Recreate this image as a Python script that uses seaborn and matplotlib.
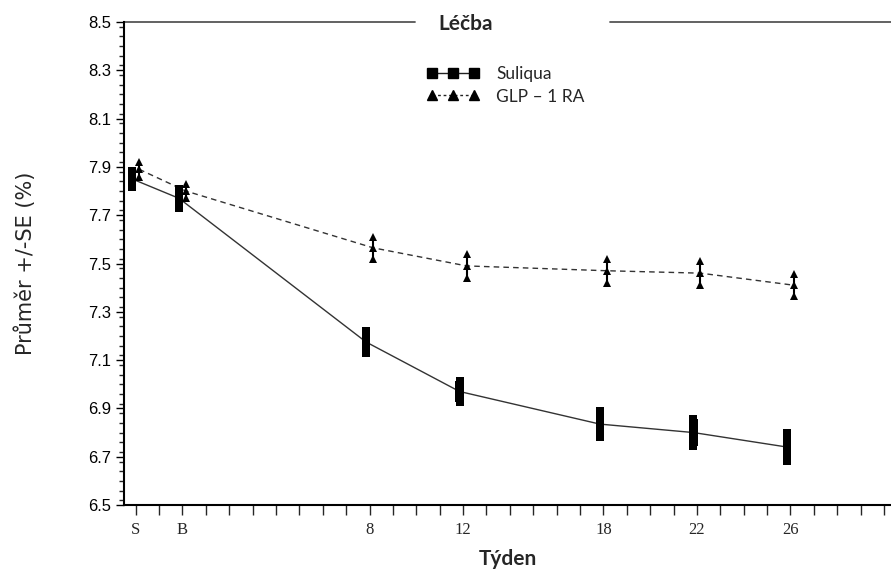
import matplotlib
matplotlib.use("Agg")
import matplotlib.pyplot as plt
import seaborn as sns
import numpy as np
import pandas as pd
from matplotlib.lines import Line2D
from matplotlib.ticker import MultipleLocator

# ---- data ----
weeks = [-2, 0, 8, 12, 18, 22, 26]
week_labels = ["S", "B", "8", "12", "18", "22", "26"]
suliqua_mean = [7.85, 7.77, 7.175, 6.97, 6.835, 6.80, 6.74]
suliqua_se = [0.035, 0.04, 0.045, 0.045, 0.053, 0.055, 0.058]
glp_mean = [7.89, 7.80, 7.565, 7.49, 7.47, 7.46, 7.41]
glp_se = [0.03, 0.03, 0.045, 0.05, 0.05, 0.05, 0.045]
series_names = ["Suliqua", "GLP – 1 RA"]

sns.set_theme(style="white")
plt.rcParams['font.family'] = ['Liberation Sans', 'DejaVu Sans']

rows = []
for name, means, ses, off in [(series_names[0], suliqua_mean, suliqua_se, -0.15),
                              (series_names[1], glp_mean, glp_se, 0.15)]:
    for w, m, s in zip(weeks, means, ses):
        rows.append(dict(series=name, week=w + off, mean=m, se=s))
df = pd.DataFrame(rows)
df["lo"] = df["mean"] - df["se"]
df["hi"] = df["mean"] + df["se"]

fig = plt.figure(figsize=(8.91, 5.72), dpi=100)
ax = fig.add_axes([124/891, 1 - 505/572, 1 - 124/891, (505 - 22)/572])

styles = {series_names[0]: dict(marker="s", ls="-", ms=6.0, color="#333333"),
          series_names[1]: dict(marker="^", ls=(0, (4, 3)), ms=6.0, color="#333333")}

for name in series_names:
    d = df[df.series == name]
    st = styles[name]
    sns.lineplot(data=d, x="week", y="mean", ax=ax, color=st["color"], lw=1.0,
                 linestyle=st["ls"], marker=st["marker"], markersize=st["ms"],
                 markeredgecolor="black", markerfacecolor="black", markeredgewidth=0,
                 estimator=None, sort=False, legend=False, zorder=2)
    if st["marker"] == "s":
        # thick solid error bar, as wide as the square marker
        ax.bar(d["week"], d["hi"] - d["lo"], bottom=d["lo"], width=0.355,
               color="black", linewidth=0, zorder=3)
    else:
        ax.vlines(d["week"], d["lo"], d["hi"], color="black", lw=1.5, zorder=3)
    for col in ["lo", "hi"]:
        sns.lineplot(data=d, x="week", y=col, ax=ax, linestyle="none",
                     marker=st["marker"], markersize=st["ms"], color="black",
                     markeredgecolor="black", markerfacecolor="black", markeredgewidth=0,
                     estimator=None, sort=False, legend=False, zorder=3)

ax.set_xlim(-2.5, 30.3)
ax.set_ylim(6.5, 8.5)
ax.set_xticks(list(range(-2, 31)))
lab_map = dict(zip(weeks, week_labels))
ax.set_xticklabels([lab_map.get(w, "") for w in range(-2, 31)],
                   fontfamily="Liberation Serif", fontsize=12)
ax.set_yticks(np.round(np.arange(6.5, 8.51, 0.2), 1))
ax.set_yticklabels([f"{v:.1f}" for v in np.arange(6.5, 8.51, 0.2)], fontsize=12)
ax.yaxis.set_minor_locator(MultipleLocator(0.04))
ax.tick_params(axis="y", which="major", direction="out", length=6, width=1, left=True, colors="black", pad=3)
ax.tick_params(axis="y", which="minor", direction="out", length=3.5, width=1, left=True)
ax.tick_params(axis="x", which="major", direction="out", length=7, width=1, bottom=True, pad=5)

for sp in ["top", "right"]:
    ax.spines[sp].set_visible(False)
for sp in ["left", "bottom"]:
    ax.spines[sp].set_color("black")
    ax.spines[sp].set_linewidth(1.5)

# top frame with gap for the legend title
ax.plot([0, (415 - 124) / 767], [1, 1], transform=ax.transAxes, color="#555555", lw=1.3, clip_on=False)
ax.plot([(610 - 124) / 767, 1], [1, 1], transform=ax.transAxes, color="#555555", lw=1.3, clip_on=False)
fig.text(466 / 891, 1 - 24 / 572, "Léčba", ha="center", va="center",
         fontfamily="Lato", fontweight="bold", fontsize=15)

handles = [Line2D([], [], color="#222222", lw=1, marker="s", ms=7.5, mfc="black", mec="black"),
           Line2D([], [], color="#222222", lw=1, ls=(0, (2, 2)), marker="^", ms=7.5, mfc="black", mec="black")]
leg = ax.legend(handles, series_names, loc="upper left", bbox_to_anchor=((411 - 124) / 767, 1 - 28 / 483),
                frameon=False, numpoints=3, handlelength=3.0, handletextpad=1.0,
                labelspacing=0.4, prop=dict(family="Lato", size=12.5))

ax.set_xlabel("Týden", fontfamily="Lato", fontweight="bold", fontsize=15, labelpad=8)
ax.set_ylabel("Průměr +/-SE (%)", fontfamily="DejaVu Sans", fontsize=15, labelpad=38)

fig.savefig("out.png", dpi=100)
